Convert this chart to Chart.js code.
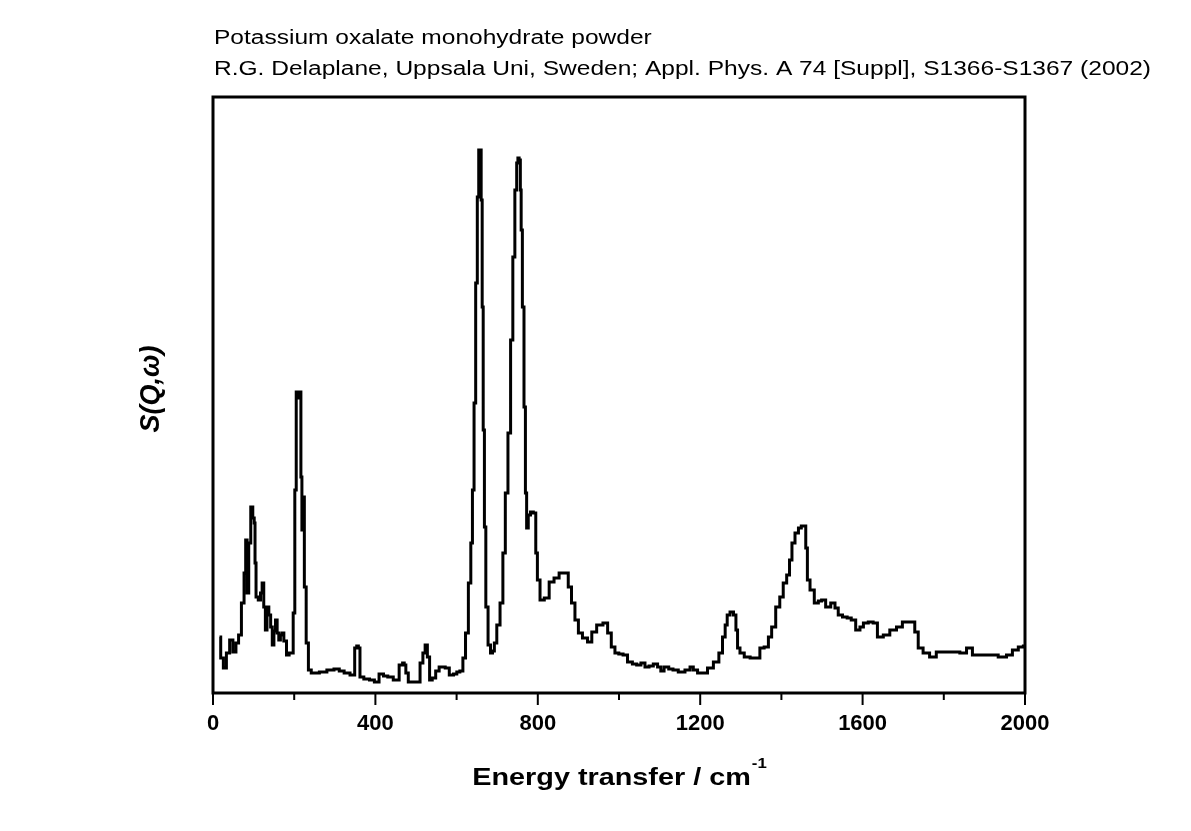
<!DOCTYPE html>
<html>
<head>
<meta charset="utf-8">
<script src="https://cdn.jsdelivr.net/npm/chart.js@4.4.1/dist/chart.umd.min.js"></script>
<style>
  body { margin: 0; background: #fff; }
  canvas { display: block; }
</style>
</head>
<body>
<canvas id="canvas" width="1191" height="831"></canvas>
<script>
// Energy transfer (cm-1) and S(Q,w) in arbitrary units
const energy = [
  16, 22, 29, 37, 45, 53, 60, 66, 74, 79,
  82, 86, 90, 96, 100, 103, 104, 108, 115, 119,
  123, 127, 131, 135, 140, 144, 148, 152, 156, 160,
  164, 168, 172, 177, 185, 190, 195, 200, 203, 207,
  211, 215, 218, 220, 223, 227, 232, 238, 246, 254,
  270, 291, 305, 317, 329, 346, 352, 356, 360, 364,
  379, 392, 403, 415, 425, 436, 452, 465, 469, 473,
  477, 485, 495, 506, 514, 520, 525, 531, 536, 544,
  553, 561, 568, 576, 588, 597, 604, 612, 619, 625,
  633, 637, 641, 645, 649, 653, 656, 659, 662, 664,
  667, 670, 674, 681, 686, 691, 695, 703, 711, 717,
  723, 730, 736, 741, 746, 750, 752, 756, 758, 760,
  764, 768, 771, 774, 779, 785, 793, 797, 801, 810,
  822, 834, 846, 859, 871, 879, 887, 896, 904, 916,
  929, 937, 953, 968, 976, 986, 994, 1005, 1015, 1027,
  1039, 1048, 1060, 1068, 1080, 1089, 1101, 1105, 1117, 1128,
  1138, 1154, 1171, 1179, 1187, 1200, 1212, 1224, 1241, 1251,
  1259, 1264, 1269, 1278, 1286, 1290, 1294, 1302, 1315, 1331,
  1343, 1351, 1364, 1372, 1380, 1392, 1400, 1409, 1417, 1423,
  1429, 1438, 1446, 1452, 1458, 1462, 1466, 1475, 1487, 1495,
  1503, 1515, 1528, 1536, 1544, 1557, 1567, 1577, 1589, 1598,
  1606, 1622, 1630, 1643, 1659, 1675, 1692, 1704, 1724, 1733,
  1741, 1757, 1773, 1790, 1811, 1831, 1848, 1864, 1877, 1897,
  1922, 1946, 1963, 1975, 1992, 2000
];
const intensity = [
  56, 35, 25, 40, 53, 41, 50, 58, 90, 120,
  153, 100, 150, 186, 175, 170, 130, 96, 93, 100,
  110, 86, 63, 86, 78, 66, 48, 62, 73, 60,
  53, 58, 60, 52, 38, 40, 40, 80, 203, 301,
  295, 301, 216, 163, 196, 106, 50, 23, 20, 20,
  21, 23, 24, 22, 20, 18, 45, 47, 45, 16,
  14, 13, 11, 19, 17, 16, 13, 28, 30, 28,
  20, 11, 11, 11, 30, 40, 48, 36, 13, 15,
  22, 26, 26, 25, 18, 19, 21, 22, 35, 60,
  110, 150, 203, 290, 410, 496, 543, 543, 493, 386,
  263, 166, 86, 48, 40, 42, 50, 68, 90, 140,
  200, 260, 353, 436, 503, 530, 535, 533, 503, 463,
  386, 286, 200, 165, 178, 181, 180, 140, 113, 93,
  95, 111, 115, 120, 120, 106, 90, 73, 60, 55,
  51, 61, 68, 70, 60, 46, 40, 39, 38, 31,
  29, 28, 30, 26, 27, 29, 26, 22, 26, 24,
  23, 21, 23, 26, 23, 20, 20, 25, 31, 40,
  56, 68, 78, 81, 78, 63, 45, 40, 36, 35,
  35, 45, 46, 56, 66, 86, 96, 110, 118, 133,
  150, 160, 165, 167, 167, 145, 113, 103, 90, 92,
  93, 86, 90, 85, 78, 76, 75, 73, 63, 66,
  70, 71, 70, 56, 58, 63, 66, 71, 71, 61,
  45, 40, 36, 41, 41, 41, 40, 45, 38, 38,
  38, 36, 38, 43, 46, 47
];
const labeledTicks = [0, 400, 800, 1200, 1600, 2000];
const titleLines = [
  'Potassium oxalate monohydrate powder',
  'R.G. Delaplane, Uppsala Uni, Sweden; Appl. Phys. A 74 [Suppl], S1366-S1367 (2002)'
];

const FONT = '"Liberation Sans", Arial, Helvetica, sans-serif';

// text in the reference is a little wider than plain Arial
function wideText(ctx, text, x, y, sx) {
  ctx.save();
  ctx.translate(x, y);
  ctx.scale(sx, 1);
  ctx.fillText(text, 0, 0);
  ctx.restore();
}

// frame, tick marks and text placed around the chart area
const decorations = {
  id: 'decorations',
  afterDraw(chart) {
    const { ctx, chartArea: a } = chart;
    const xs = chart.scales.x;
    ctx.save();
    ctx.strokeStyle = '#000';
    ctx.lineWidth = 3;
    ctx.strokeRect(a.left, a.top, a.right - a.left, a.bottom - a.top);

    ctx.lineWidth = 2;
    xs.ticks.forEach(t => {
      const px = xs.getPixelForValue(t.value);
      const len = labeledTicks.includes(t.value) ? 12 : 7;
      ctx.beginPath();
      ctx.moveTo(px, a.bottom);
      ctx.lineTo(px, a.bottom + len);
      ctx.stroke();
    });

    ctx.fillStyle = '#000';
    ctx.textAlign = 'left';
    ctx.textBaseline = 'alphabetic';
    ctx.font = '20px ' + FONT;
    const line2W = ctx.measureText(titleLines[1]).width;
    const tsx = 937 / line2W;
    wideText(ctx, titleLines[0], a.left + 1, 44, tsx);
    wideText(ctx, titleLines[1], a.left + 1, 75, tsx);

    // x axis title with superscript
    const main = 'Energy transfer / cm';
    const xsx = 1.2;
    ctx.font = 'bold 24px ' + FONT;
    const mainW = ctx.measureText(main).width * xsx;
    ctx.font = 'bold 14px ' + FONT;
    const supW = ctx.measureText('-1').width * xsx;
    const cx = (a.left + a.right) / 2;
    const x0 = cx - (mainW + supW) / 2;
    ctx.font = 'bold 24px ' + FONT;
    wideText(ctx, main, x0, 785, xsx);
    ctx.font = 'bold 14px ' + FONT;
    wideText(ctx, '-1', x0 + mainW + 1, 768, xsx);

    // y axis title
    ctx.translate(152, 389);
    ctx.rotate(-Math.PI / 2);
    ctx.textAlign = 'center';
    ctx.textBaseline = 'middle';
    ctx.font = 'italic bold 27px ' + FONT;
    ctx.fillText('S(Q,\u03c9)', 0, 0);
    ctx.restore();
  }
};

new Chart(document.getElementById('canvas').getContext('2d'), {
  type: 'line',
  data: {
    datasets: [{
      data: energy.map((e, i) => ({ x: e, y: intensity[i] })),
      borderColor: '#000',
      borderWidth: 3,
      pointRadius: 0,
      stepped: 'middle',
      fill: false
    }]
  },
  options: {
    responsive: false,
    animation: false,
    layout: { padding: { left: 213, right: 166, top: 97, bottom: 93 } },
    plugins: { legend: { display: false }, tooltip: { enabled: false } },
    scales: {
      x: {
        type: 'linear',
        min: 0,
        max: 2000,
        border: { display: false },
        grid: { display: false, drawTicks: false },
        ticks: {
          stepSize: 200,
          autoSkip: false,
          maxRotation: 0,
          padding: 18,
          color: '#000',
          font: { family: FONT, size: 22, weight: 'bold' },
          callback: v => labeledTicks.includes(v) ? v : ''
        },
        afterFit: s => { s.height = 45; }
      },
      y: {
        display: false,
        min: 0,
        max: 596
      }
    }
  },
  plugins: [decorations]
});
</script>
</body>
</html>
